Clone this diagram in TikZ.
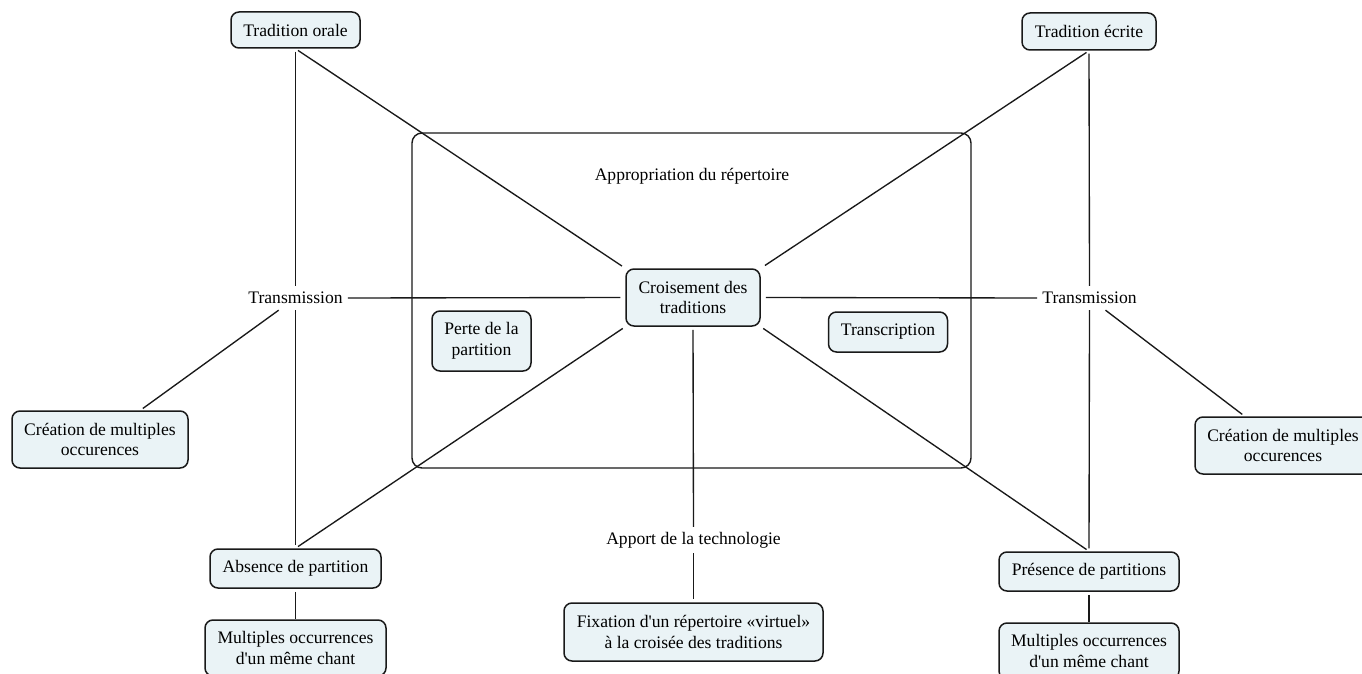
\documentclass[tikz,border=0pt]{standalone}
\usepackage{fontspec}
\setmainfont{Liberation Serif}
\definecolor{conceptfill}{RGB}{234,243,246}
\newcommand\sq{\XeTeXglyph\XeTeXcharglyph"27\relax}
\begin{document}
\begin{tikzpicture}[x=1pt,y=-1pt,
  every node/.style={font=\fontsize{17.6pt}{20.7pt}\selectfont},
  concept/.style={draw=black!90, line width=1.5pt, fill=conceptfill, rounded corners=8pt, align=center, inner sep=0pt},
  lbl/.style={inner xsep=5pt, inner ysep=0pt, minimum height=24pt},
  link/.style={line width=1.35pt, draw=black!90, shorten <=3pt, shorten >=3pt}]
\useasboundingbox (0,0) rectangle (1362,674);
% frame
\node[draw=black!90, line width=1.4pt, rounded corners=10pt, minimum width=559pt, minimum height=335pt, inner sep=0pt] (frame) at (691.5,300.5) {};
\node (apl) at (692,176) {Appropriation du répertoire};
% concepts
\node[concept, minimum width=129pt, minimum height=36pt] (to) at (295.5,30) {Tradition orale};
\node[concept, minimum width=134pt, minimum height=37pt] (te) at (1089,31.5) {Tradition écrite};
\node[concept, minimum width=134pt, minimum height=57pt] (cr) at (693,297.5) {Croisement des\\traditions};
\node[concept, minimum width=99pt, minimum height=60pt] (pp) at (481.5,341) {Perte de la\\partition};
\node[concept, minimum width=119pt, minimum height=40pt] (tr) at (888,332) {Transcription};
\node[concept, minimum width=176pt, minimum height=57pt] (cl) at (100,439.5) {Création de multiples\\occurences};
\node[concept, minimum width=176pt, minimum height=57pt] (crr) at (1283,445.5) {Création de multiples\\occurences};
\node[concept, minimum width=171pt, minimum height=39pt] (ab) at (295.5,568.5) {Absence de partition};
\node[concept, minimum width=181pt, minimum height=56pt] (ml) at (295.5,648) {Multiples occurrences\\d\sq un même chant};
\node[concept, minimum width=180pt, minimum height=39pt] (pr) at (1089,571.5) {Présence de partitions};
\node[concept, minimum width=180pt, minimum height=56pt] (mr) at (1089,651) {Multiples occurrences\\d\sq un même chant};
\node[concept, minimum width=259pt, minimum height=58pt] (fx) at (693.5,632) {Fixation d\sq un répertoire «virtuel»\\à la croisée des traditions};
% linking phrases
\node[lbl] (tl) at (295.5,298) {Transmission};
\node[lbl] (trr) at (1089.5,298) {Transmission};
\node[lbl, minimum height=26pt] (at) at (693.5,540) {Apport de la technologie};
% links
\draw[link, shorten >=0pt] (to.south) -- (tl.north);
\draw[link, shorten <=0pt] (tl.south) -- (ab.north);
\draw[link, shorten <=0pt] (tl) -- (cl);
\draw[link, shorten <=0pt, shorten >=5pt] (tl.east) -- (cr.west);
\draw[link, shorten >=4pt] (to.south) -- (cr.north west);
\draw[link] (cr.south west) -- (ab.north);
\draw[link, shorten >=5pt] (te.south) -- (cr.north east);
\draw[link, shorten >=0pt] (te.south) -- (trr.north);
\draw[link, shorten <=0pt] (trr.south) -- (pr.north);
\draw[link, shorten <=0pt] (trr) -- (crr);
\draw[link, shorten <=5pt, shorten >=0pt] (cr.east) -- (trr.west);
\draw[link] (cr.south east) -- (pr.north);
\draw[link, shorten >=0pt] (cr.south) -- (at.north);
\draw[link, shorten <=0pt] (at.south) -- (fx.north);
\draw[link, shorten >=0pt] (ab.south) -- (ml.north);
\draw[link, shorten >=0pt] (pr.south) -- (mr.north);
\end{tikzpicture}
\end{document}
